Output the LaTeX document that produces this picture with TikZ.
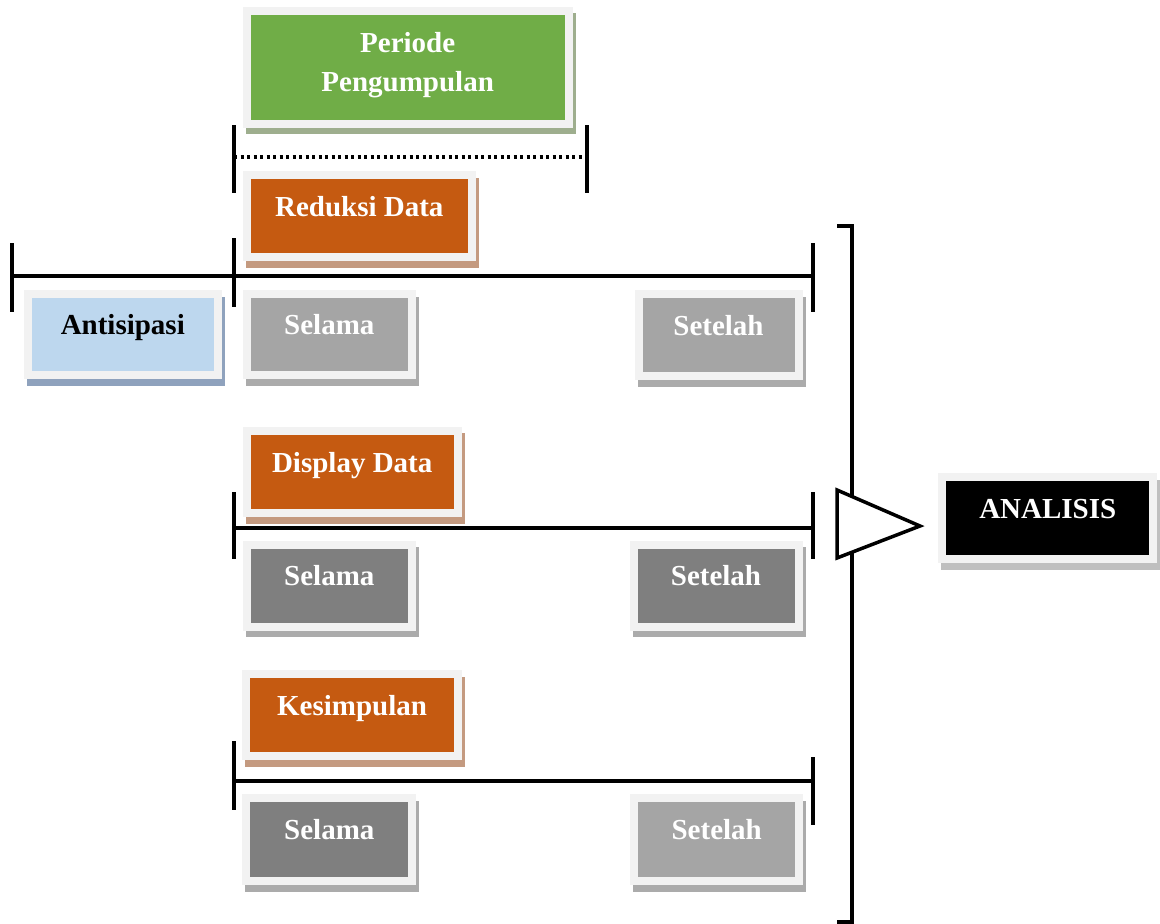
\documentclass[tikz,border=0pt]{standalone}
\usepackage{fontspec}
\setmainfont{Liberation Serif}
\definecolor{frameclr}{HTML}{F2F2F2}
\definecolor{greenclr}{HTML}{70AD47}
\definecolor{greensh}{HTML}{9EAE8E}
\definecolor{orangeclr}{HTML}{C55A11}
\definecolor{orangesh}{HTML}{C49A80}
\definecolor{blueclr}{HTML}{BDD7EE}
\definecolor{bluesh}{HTML}{8FA2BD}
\definecolor{lightclr}{HTML}{A5A5A5}
\definecolor{darkclr}{HTML}{7F7F7F}
\definecolor{graysh}{HTML}{ABABAB}
\definecolor{blacksh}{HTML}{BFBFBF}
\tikzset{
  tbox/.style n args={2}{rectangle, draw=frameclr, line width=8pt, fill=#1,
    inner sep=0pt, text=white, font=\bfseries\fontsize{29}{39}\selectfont,
    preaction={draw=#2, fill=#2, transform canvas={xshift=3pt, yshift=-6.5pt}}},
  oneline/.style={text height=14pt, text depth=14pt},
  tline/.style={line width=3.5pt},
}
\begin{document}
\begin{tikzpicture}[x=1pt,y=-1pt]
\useasboundingbox (0,0) rectangle (1160,924);
% periode pengumpulan
\draw [tline] (234,125) -- (234,193);
\draw [tline] (587,125) -- (587,193);
\draw [tline,dash pattern=on 3pt off 3.5pt] (234,157) -- (587,157);
% reduksi data
\draw [tline] (12,276) -- (813,276);
\draw [tline] (12,243) -- (12,312);
\draw [tline] (234,238) -- (234,307);
\draw [tline] (813,243) -- (813,312);
% display data
\draw [tline] (234,528) -- (813,528);
\draw [tline] (234,492) -- (234,559);
\draw [tline] (813,492) -- (813,559);
% kesimpulan
\draw [tline] (234,781) -- (813,781);
\draw [tline] (234,741) -- (234,810);
\draw [tline] (813,757) -- (813,825);
% bracket and triangle
\draw [tline] (837,226) -- (852,226) -- (852,922) -- (837,922);
\draw [tline,fill=white,line join=miter] (837,490) -- (920,526) -- (837,558) -- cycle;
% boxes
\node [tbox={greenclr}{greensh},align=center,text depth=11pt,minimum width=322pt,minimum height=113pt] (periode) at (407.7,67.4) {Periode\\Pengumpulan};
\node [tbox={orangeclr}{orangesh},oneline,minimum width=225pt,minimum height=82pt] (reduksi) at (359.3,216) {Reduksi Data};
\node [tbox={blueclr}{bluesh},oneline,text=black,minimum width=190pt,minimum height=81pt] (antisipasi) at (122.8,334.5) {Antisipasi};
\node [tbox={lightclr}{graysh},oneline,minimum width=165pt,minimum height=81pt] (selamaA) at (329.3,334.5) {Selama};
\node [tbox={lightclr}{graysh},oneline,minimum width=160pt,minimum height=82pt] (setelahA) at (718.5,335) {Setelah};
\node [tbox={orangeclr}{orangesh},oneline,minimum width=211pt,minimum height=82.6pt] (display) at (352.2,472) {Display Data};
\node [tbox={darkclr}{graysh},oneline,minimum width=165pt,minimum height=82pt] (selamaB) at (329.3,585.7) {Selama};
\node [tbox={darkclr}{graysh},oneline,minimum width=165pt,minimum height=82pt] (setelahB) at (716,585.7) {Setelah};
\node [tbox={orangeclr}{orangesh},oneline,minimum width=212pt,minimum height=82pt] (kesimpulan) at (352.1,715) {Kesimpulan};
\node [tbox={darkclr}{graysh},oneline,minimum width=166pt,minimum height=82.7pt] (selamaC) at (329.3,839.7) {Selama};
\node [tbox={lightclr}{graysh},oneline,minimum width=165.5pt,minimum height=82.7pt] (setelahC) at (716.7,839.7) {Setelah};
\node [tbox={black}{blacksh},oneline,minimum width=211pt,minimum height=82pt] (analisis) at (1047.8,518.3) {ANALISIS};
\end{tikzpicture}
\end{document}
